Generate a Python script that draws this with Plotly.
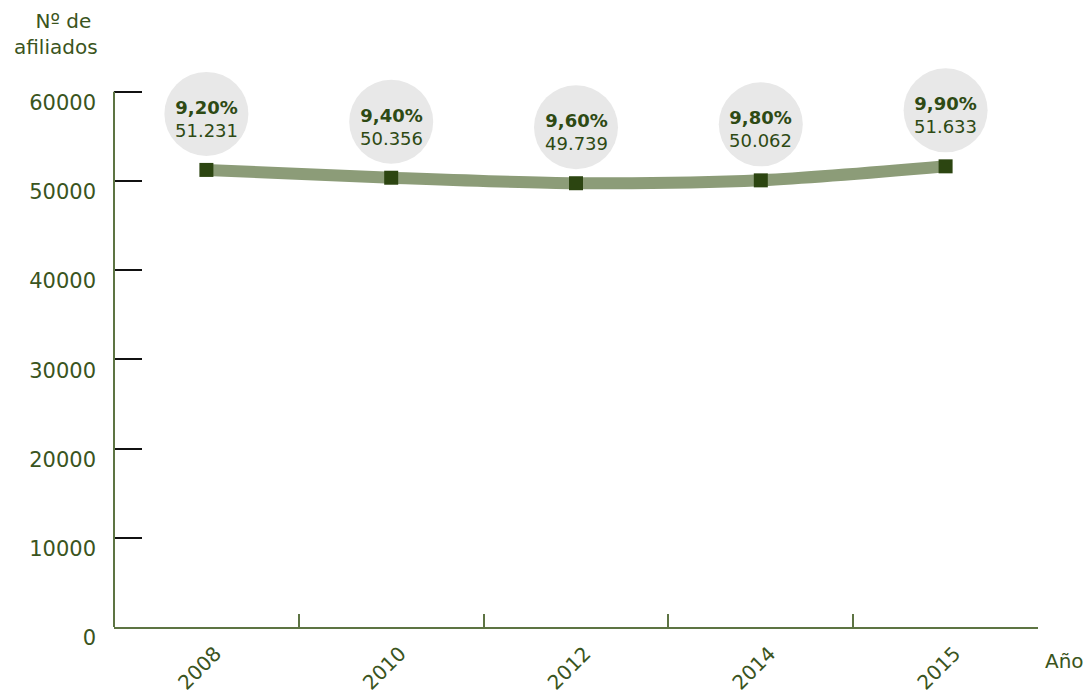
import plotly.graph_objects as go

years = ["2008", "2010", "2012", "2014", "2015"]
afiliados = [51231, 50356, 49739, 50062, 51633]
porcentajes = ["9,20%", "9,40%", "9,60%", "9,80%", "9,90%"]
valores_txt = ["51.231", "50.356", "49.739", "50.062", "51.633"]
y_ticks = [0, 10000, 20000, 30000, 40000, 50000, 60000]
Y_AXIS_TOP = 60000
Y_VIEW_TOP = 64000

FONT = "DejaVu Sans"
GREEN_TXT = "#3a5420"
AXIS_GREEN = "#5d7443"
LINE_COL = "#8c9c78"
MARK_COL = "#2c4511"

fig = go.Figure()
fig.add_trace(go.Scatter(
    x=years, y=afiliados, mode="lines+markers",
    line=dict(color=LINE_COL, width=12, shape="spline", smoothing=0.8),
    marker=dict(symbol="square", size=14, color=MARK_COL),
    hoverinfo="skip", showlegend=False, cliponaxis=False,
))

shapes = []
annotations = []
for i, (v, p, t) in enumerate(zip(afiliados, porcentajes, valores_txt)):
    shapes.append(dict(
        type="circle", xref="x", yref="y", xsizemode="pixel", ysizemode="pixel",
        xanchor=i, yanchor=v, x0=-42, x1=42, y0=14, y1=98,
        fillcolor="#e8e8e8", line=dict(width=0), layer="below",
    ))
    annotations.append(dict(
        x=i, y=v, xref="x", yref="y", yshift=51, showarrow=False,
        text=f"<b>{p}</b><br>{t}", align="center",
        font=dict(family=FONT, size=18, color="#2e4a14"),
    ))

# y axis line drawn only up to the top tick
shapes.append(dict(
    type="line", xref="paper", yref="y", x0=0, x1=0, y0=0, y1=Y_AXIS_TOP,
    line=dict(color=AXIS_GREEN, width=2), layer="above",
))

annotations.append(dict(
    x=0, y=Y_AXIS_TOP, xref="paper", yref="y", showarrow=False,
    text="Nº de&nbsp;<br>afiliados", align="right", xanchor="right", yanchor="bottom",
    xshift=-14, yshift=31,
    font=dict(family=FONT, size=20, color=GREEN_TXT),
))
annotations.append(dict(
    x=1, y=0, xref="paper", yref="paper", showarrow=False,
    text="Año", xanchor="left", yanchor="top", xshift=5, yshift=-20,
    font=dict(family=FONT, size=20, color=GREEN_TXT),
))

fig.update_layout(
    width=1092, height=693,
    margin=dict(l=106, r=62, t=48, b=74, autoexpand=False),
    paper_bgcolor="white", plot_bgcolor="white",
    shapes=shapes, annotations=annotations,
    font=dict(family=FONT, size=19, color=GREEN_TXT),
)

fig.update_xaxes(
    type="category", range=[-0.5, 4.5],
    showline=True, linecolor=AXIS_GREEN, linewidth=2,
    ticks="inside", ticklen=13, tickwidth=2, tickcolor=AXIS_GREEN,
    tickson="boundaries", showgrid=False, zeroline=False,
    tickangle=-45, ticklabelshift=9, ticklabelstandoff=5,
    tickfont=dict(family=FONT, size=20, color=GREEN_TXT),
)
fig.update_yaxes(
    range=[0, Y_VIEW_TOP], tickvals=y_ticks, ticktext=[str(v) for v in y_ticks],
    showline=False,
    ticks="inside", ticklen=28, tickwidth=2, tickcolor="#111111",
    showgrid=False, zeroline=False, ticklabelstandoff=17, ticklabelshift=11,
    tickfont=dict(family=FONT, size=21, color=GREEN_TXT),
)

fig.write_html("out.html")
